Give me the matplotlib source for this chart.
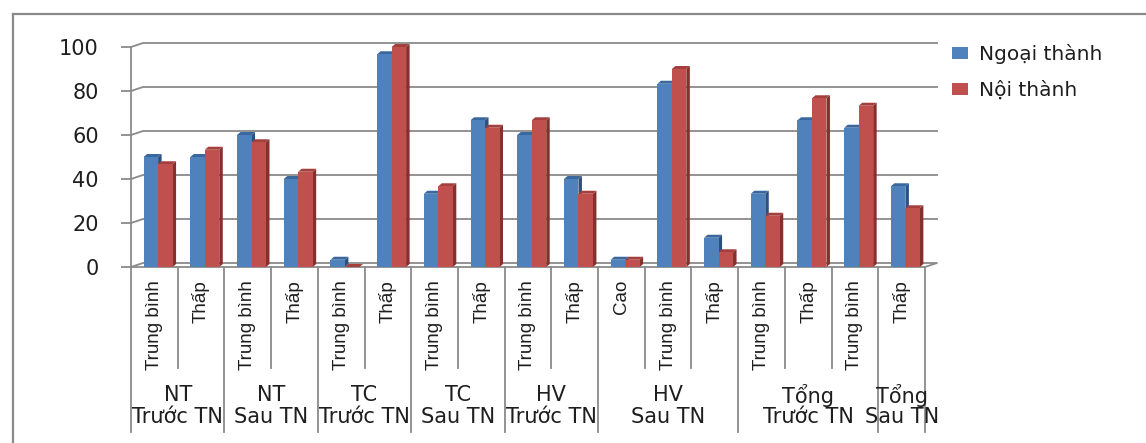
import matplotlib
matplotlib.use("Agg")
import matplotlib.pyplot as plt
from matplotlib.patches import Polygon, Patch
from matplotlib.lines import Line2D

plt.rcParams['font.family'] = ['DejaVu Sans']

# nhóm và mức
nhom = ["NT\nTrước TN", "NT\nSau TN", "TC\nTrước TN", "TC\nSau TN",
        "HV\nTrước TN", "HV\nSau TN", "Tổng\nTrước TN", "Tổng\nSau TN"]
so_muc = [2, 2, 2, 2, 2, 3, 3, 1]
muc = ["Trung bình", "Thấp", "Trung bình", "Thấp", "Trung bình", "Thấp",
       "Trung bình", "Thấp", "Trung bình", "Thấp", "Cao", "Trung bình", "Thấp",
       "Trung bình", "Thấp", "Trung bình", "Thấp"]

ngoai_thanh = [50, 50, 60, 40, 3.3, 96.7, 33.3, 66.7, 60, 40, 3.3, 83.3, 13.3,
               33.3, 66.7, 63.3, 36.7]
noi_thanh = [46.7, 53.3, 56.7, 43.3, 0, 100, 36.7, 63.3, 66.7, 33.3, 3.3, 90, 6.7,
             23.3, 76.7, 73.3, 26.7]
ten_chuoi = ["Ngoại thành", "Nội thành"]

W, H = 1146, 443
fig = plt.figure(figsize=(W / 100, H / 100), dpi=100)
ax = fig.add_axes([131 / W, (H - 267) / H, (925 - 131) / W, 220 / H])
n = len(muc)
ax.set_xlim(0, n)
ax.set_ylim(0, 100)

xam = '#8a8a8a'
chu = '#1e1e1e'

# tường sau + sàn (giả 3D)
DX, DY = 0.257, 1.82
for v in range(20, 101, 20):
    ax.plot([0, DX, n + DX], [v + 0, v + DY, v + DY], color=xam, lw=1.3, clip_on=False, zorder=1)
ax.plot([0, n], [0, 0], color=xam, lw=1.3, clip_on=False, zorder=1)
ax.plot([0, DX, n + DX, n], [0, DY, DY, 0], color=xam, lw=1.3, clip_on=False, zorder=1)

# cột
w = 0.31
sx = 0.08
ddx, ddy = 0.075, 1.36
x = [i + 0.5 + sx for i in range(n)]
mau = [('#4F81BD', '#2C5180', '#3A689E'), ('#C0504D', '#86302E', '#A33F3C')]
z = 3
for k, vals in enumerate([ngoai_thanh, noi_thanh]):
    xs = [xi - w + k * w for xi in x]
    fc, sc, tc = mau[k]
    for xl, v in zip(xs, vals):
        xr = xl + w
        ax.add_patch(Polygon([(xr, 0), (xr, v), (xr + ddx, v + ddy), (xr + ddx, ddy)],
                             closed=True, facecolor=sc, edgecolor='none', zorder=z, clip_on=False))
        ax.add_patch(Polygon([(xl, v), (xr, v), (xr + ddx, v + ddy), (xl + ddx, v + ddy)],
                             closed=True, facecolor=tc, edgecolor='none', zorder=z, clip_on=False))
    ax.bar(xs, vals, width=w, align='edge', color=fc, zorder=z + 0.5)
    z += 1

for s in ['top', 'right', 'bottom']:
    ax.spines[s].set_visible(False)
ax.spines['left'].set_color(xam)
ax.spines['left'].set_linewidth(1.3)
ax.set_xticks([])
ax.set_yticks(range(0, 101, 20))
ax.tick_params(axis='y', length=7.2, width=1.3, color=xam, pad=16, labelsize=15, labelcolor=chu)

# đường chia và nhãn trục hoành
tr = ax.get_xaxis_transform()
bien = [0]
for s in so_muc:
    bien.append(bien[-1] + s)
for i in range(n + 1):
    y_end = -0.75 if i in bien else -0.459
    ax.plot([i, i], [0, y_end], transform=tr, color=xam, lw=1.3, clip_on=False)

for i, m in enumerate(muc):
    ax.text(i + 0.5, -0.059, m, transform=tr, rotation=90, ha='center', va='top',
            fontsize=13.5, family=['Liberation Sans', 'DejaVu Sans'], color=chu)

for g, ten in enumerate(nhom):
    cx = (bien[g] + bien[g + 1]) / 2
    dong1, dong2 = ten.split("\n")
    ax.text(cx, -0.582, dong1, transform=tr, ha='center', va='center', fontsize=15, color=chu)
    ax.text(cx, -0.682, dong2, transform=tr, ha='center', va='center', fontsize=15, color=chu)

# chú thích
fig.legend(handles=[Patch(facecolor=mau[0][0]), Patch(facecolor=mau[1][0])], labels=ten_chuoi,
           loc='upper left', bbox_to_anchor=(952 / W, (H - 44) / H), frameon=False, fontsize=14.5,
           handlelength=0.8, handleheight=0.5, handletextpad=0.55, labelspacing=0.85,
           borderpad=0, borderaxespad=0, labelcolor=chu)

# khung ngoài
fig.add_artist(Line2D([12.5 / W, 12.5 / W], [0, (H - 14) / H], transform=fig.transFigure, color=xam, lw=1.6))
fig.add_artist(Line2D([12.5 / W, 1.02], [(H - 14) / H, (H - 14) / H], transform=fig.transFigure, color=xam, lw=1.6))

fig.savefig("out.png", dpi=100)
